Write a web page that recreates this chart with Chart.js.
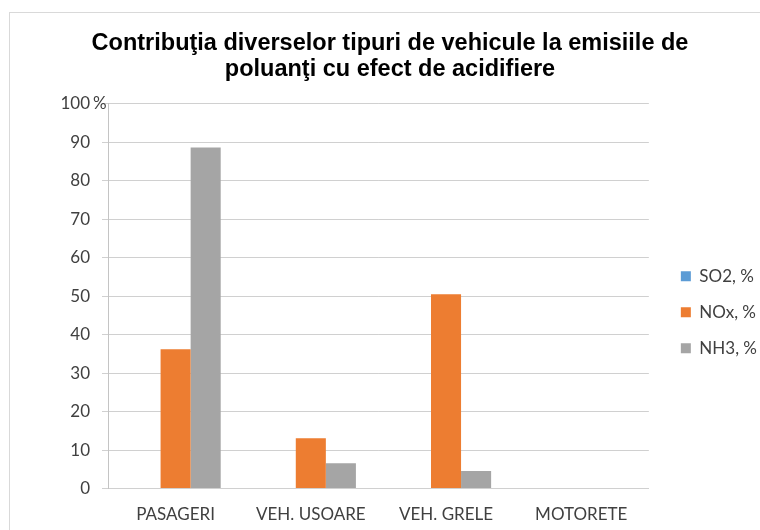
<!DOCTYPE html>
<html lang="ro">
  <head>
    <meta charset="UTF-8" />
    <title>Contributia vehiculelor la emisiile acidifiante</title>
    <script src="https://cdn.jsdelivr.net/npm/chart.js"></script>
    <style>
      html, body { margin: 0; padding: 0; background: #fff; overflow: hidden; }
      #frame {
        position: absolute; left: 9px; top: 12px;
        width: 800px; height: 600px;
        border: 1px solid #d9d9d9;
      }
      #wrap { position: absolute; left: 0; top: 0; width: 780px; height: 548px; }
    </style>
  </head>
  <body>
    <div id="frame"></div>
    <div id="wrap"><canvas id="emisii"></canvas></div>

    <script>
      const categorii = ["PASAGERI", "VEH. USOARE", "VEH. GRELE", "MOTORETE"];
      const so2 = [0, 0, 0, 0];
      const nox = [36.2, 13.1, 50.5, 0];
      const nh3 = [88.6, 6.6, 4.6, 0];
      const yTicks = [0, 10, 20, 30, 40, 50, 60, 70, 80, 90, 100];

      const textColor = "#404040";
      const tickFont = { family: "Lato", size: 17 };

      // the "%" after the top tick, as in the original
      const percentMark = {
        id: "percentMark",
        afterDraw(chart) {
          const y = chart.scales.y;
          const ctx = chart.ctx;
          ctx.save();
          ctx.font = "17px Lato";
          ctx.fillStyle = textColor;
          ctx.textAlign = "left";
          ctx.textBaseline = "middle";
          ctx.fillText("%", y.right - 15, y.getPixelForValue(100));
          ctx.restore();
        },
      };

      new Chart(document.getElementById("emisii"), {
        type: "bar",
        data: {
          labels: categorii,
          datasets: [
            { label: "SO2, %", data: so2, backgroundColor: "#5B9BD5", borderWidth: 0 },
            { label: "NOx, %", data: nox, backgroundColor: "#ED7D31", borderWidth: 0 },
            { label: "NH3, %", data: nh3, backgroundColor: "#A5A5A5", borderWidth: 0 },
          ],
        },
        plugins: [percentMark],
        options: {
          responsive: true,
          maintainAspectRatio: false,
          animation: false,
          layout: { padding: { left: 13, right: 13, top: 0, bottom: 7 } },
          datasets: {
            bar: { barPercentage: 1, categoryPercentage: 0.667 },
          },
          plugins: {
            title: {
              display: true,
              text: [
                "Contribuţia diverselor tipuri de vehicule la emisiile de",
                "poluanţi cu efect de acidifiere",
              ],
              color: "#000",
              font: { family: "Liberation Sans", size: 23.5, weight: "bold", lineHeight: 1.12 },
              padding: { top: 30, bottom: 21 },
            },
            legend: {
              position: "right",
              fullSize: false,
              title: { display: true, text: " ", font: { size: 12 }, padding: { top: 9, bottom: 9 } },
              labels: {
                color: textColor,
                font: tickFont,
                boxWidth: 10,
                boxHeight: 10,
                padding: 19,
              },
            },
            tooltip: { enabled: false },
          },
          scales: {
            x: {
              grid: { display: false, drawTicks: false },
              border: { display: true, color: "#d0d0d0" },
              ticks: { color: textColor, font: tickFont, padding: 16 },
            },
            y: {
              min: 0,
              max: 100,
              afterFit: (s) => { s.width = 95; },
              afterBuildTicks: (s) => { s.ticks = yTicks.map((v) => ({ value: v })); },
              grid: { color: "#d0d0d0", tickLength: 6 },
              border: { display: true, color: "#c4c4c4" },
              ticks: { color: textColor, font: tickFont, padding: 12 },
            },
            gap: {
              type: "linear",
              position: "right",
              grid: { display: false, drawTicks: false },
              border: { display: false },
              ticks: { display: false },
              afterFit: (s) => { s.width = 13; },
            },
          },
        },
      });
    </script>
  </body>
</html>
